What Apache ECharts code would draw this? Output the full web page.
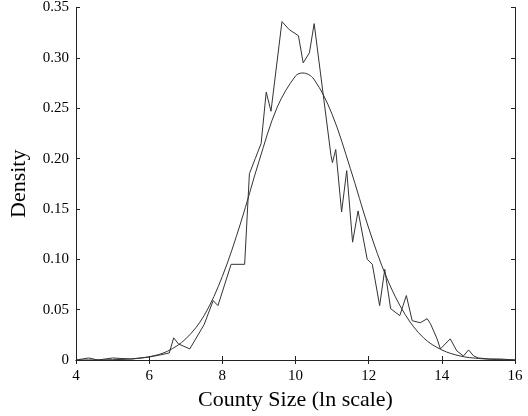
<!DOCTYPE html>
<html>
<head>
<meta charset="utf-8">
<script src="https://cdn.jsdelivr.net/npm/echarts@6/dist/echarts.min.js"></script>
<style>html,body{margin:0;padding:0;background:#fff}#c{width:528px;height:416px}</style>
</head>
<body>
<div id="c"></div>
<script>
// Empirical density (jagged line)
var empX = [4.0, 4.35, 4.6, 5.0, 5.5, 6.0, 6.3, 6.55, 6.67, 6.8, 7.11, 7.5, 7.75, 7.88, 8.24, 8.61, 8.74, 8.9, 9.06, 9.2, 9.33, 9.63, 9.83, 10.08, 10.21, 10.38, 10.51, 10.97, 11.01, 11.1, 11.26, 11.4, 11.56, 11.71, 11.96, 12.1, 12.3, 12.44, 12.6, 12.85, 13.03, 13.19, 13.41, 13.6, 13.69, 13.87, 13.96, 14.23, 14.41, 14.59, 14.73, 14.87, 15.0, 15.3, 15.6, 16.0];
var empY = [0.000, 0.002, 0.000, 0.002, 0.001, 0.003, 0.005, 0.007, 0.022, 0.016, 0.011, 0.035, 0.059, 0.054, 0.095, 0.095, 0.185, 0.200, 0.215, 0.266, 0.247, 0.336, 0.328, 0.322, 0.295, 0.305, 0.334, 0.203, 0.196, 0.209, 0.147, 0.188, 0.117, 0.148, 0.100, 0.095, 0.054, 0.090, 0.051, 0.044, 0.064, 0.039, 0.037, 0.041, 0.036, 0.021, 0.011, 0.021, 0.009, 0.004, 0.010, 0.004, 0.002, 0.001, 0.001, 0.000];
// Fitted normal density (smooth curve)
var fitX = [4.0, 4.5, 5.0, 5.5, 6.0, 6.5, 7.0, 7.5, 8.0, 8.5, 9.0, 9.5, 10.0, 10.2, 10.5, 11.0, 11.5, 12.0, 12.5, 13.0, 13.5, 14.0, 14.5, 15.0, 15.5, 16.0];
var fitY = [0.0000, 0.0001, 0.0003, 0.0010, 0.0032, 0.0087, 0.021, 0.044, 0.083, 0.136, 0.197, 0.251, 0.282, 0.285, 0.279, 0.244, 0.190, 0.131, 0.081, 0.045, 0.022, 0.010, 0.004, 0.0015, 0.0005, 0.0001];
var xTicks = [4, 6, 8, 10, 12, 14, 16];
var yTicks = ['0', '0.05', '0.10', '0.15', '0.20', '0.25', '0.30', '0.35'];

function pairs(xs, ys) { return xs.map(function (x, i) { return [x, ys[i]]; }); }

var font = '"Liberation Serif","DejaVu Serif",serif';
var axisLineStyle = { color: '#222', width: 1 };
var chart = echarts.init(document.getElementById('c'), null, { renderer: 'canvas' });
chart.setOption({
  animation: false,
  backgroundColor: '#fff',
  grid: { left: 74, right: 13, top: 7, bottom: 55 },
  xAxis: [{
    type: 'value', min: 4, max: 16, interval: 2, position: 'bottom',
    name: 'County Size (ln scale)', nameLocation: 'middle', nameGap: 29,
    nameTextStyle: { fontFamily: font, fontSize: 22, color: '#000' },
    axisLine: { show: true, lineStyle: axisLineStyle },
    axisTick: { show: true, inside: true, length: 4, lineStyle: axisLineStyle },
    axisLabel: { fontFamily: font, fontSize: 15, color: '#000', margin: 9,
      formatter: function (v) { return xTicks.indexOf(v) >= 0 ? String(v) : ''; } },
    splitLine: { show: false }
  }, {
    type: 'value', min: 4, max: 16, interval: 2, position: 'top',
    axisLine: { show: true, lineStyle: axisLineStyle },
    axisTick: { show: true, inside: true, length: 4, lineStyle: axisLineStyle },
    axisLabel: { show: false }, splitLine: { show: false }
  }],
  yAxis: [{
    type: 'value', min: 0, max: 0.35, interval: 0.05, position: 'left',
    name: 'Density', nameLocation: 'middle', nameGap: 46, nameRotate: 90,
    nameTextStyle: { fontFamily: font, fontSize: 22, color: '#000' },
    axisLine: { show: true, lineStyle: axisLineStyle },
    axisTick: { show: true, inside: true, length: 4, lineStyle: axisLineStyle },
    axisLabel: { fontFamily: font, fontSize: 15, color: '#000', margin: 7,
      formatter: function (v) { return yTicks[Math.round(v / 0.05)]; } },
    splitLine: { show: false }
  }, {
    type: 'value', min: 0, max: 0.35, interval: 0.05, position: 'right',
    axisLine: { show: true, lineStyle: axisLineStyle },
    axisTick: { show: true, inside: true, length: 4, lineStyle: axisLineStyle },
    axisLabel: { show: false }, splitLine: { show: false }
  }],
  series: [{
    type: 'line', name: 'Empirical', data: pairs(empX, empY), xAxisIndex: 0, yAxisIndex: 0,
    symbol: 'none', lineStyle: { color: '#333', width: 1 }
  }, {
    type: 'line', name: 'Normal', data: pairs(fitX, fitY), xAxisIndex: 0, yAxisIndex: 0,
    symbol: 'none', smooth: 0.35, lineStyle: { color: '#333', width: 1 }
  }]
});
</script>
</body>
</html>
